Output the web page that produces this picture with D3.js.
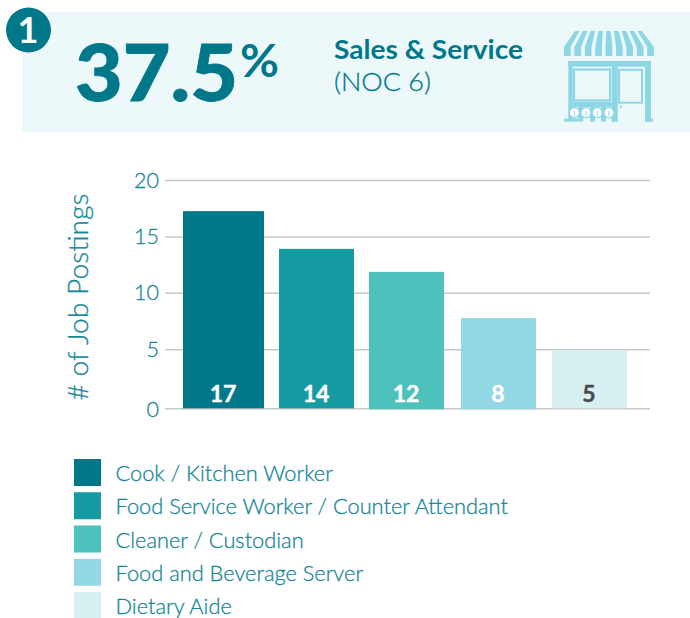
<!DOCTYPE html>
<html><head><meta charset="utf-8">
<script src="https://cdn.jsdelivr.net/npm/d3@7/dist/d3.min.js"></script>
<style>html,body{margin:0;padding:0;background:#fff}svg{display:block}text{font-family:Lato,"Open Sans",sans-serif}</style>
</head><body><svg id="c" width="690" height="618"></svg>
<script>
const categories=["Cook / Kitchen Worker","Food Service Worker / Counter Attendant","Cleaner / Custodian","Food and Beverage Server","Dietary Aide"];
const values=[17.24,13.9,11.86,7.77,4.94];
const valueLabels=["17","14","12","8","5"];
const colors=["#00788a","#179ba3","#4dc1bc","#93d8e4","#d7f0f2"];
const labelColors=["#fff","#fff","#fff","#fff","#4a4a4a"];
const ticks=[0,5,10,15,20];
const TEAL="#00788a", TXT="#16869a";
const svg=d3.select("#c");
const lightText=s=>s.attr("font-weight",300).attr("fill",TXT).attr("stroke",TXT).attr("stroke-width",0.3);
svg.append("rect").attr("x",22).attr("y",12).attr("width",668).attr("height",120).attr("fill","#edf8fb");
svg.append("circle").attr("cx",28.5).attr("cy",30).attr("r",22.5).attr("fill",TEAL);
svg.append("text").attr("x",28).attr("y",43).attr("text-anchor","middle").attr("font-size",36).attr("font-weight",700).attr("fill","#fff").text("1");
svg.append("text").attr("x",75).attr("y",101).attr("font-size",79).attr("font-weight",900).attr("fill",TEAL).attr("stroke",TEAL).attr("stroke-width",0.8)
  .attr("textLength",163).attr("lengthAdjust","spacingAndGlyphs").text("37.5");
svg.append("text").attr("x",240).attr("y",77).attr("font-size",45).attr("font-weight",700).attr("fill",TEAL)
  .attr("textLength",39).attr("lengthAdjust","spacingAndGlyphs").text("%");
svg.append("text").attr("x",334).attr("y",59).attr("font-size",26).attr("font-weight",700).attr("fill",TEAL)
  .attr("textLength",189).attr("lengthAdjust","spacingAndGlyphs").text("Sales & Service");
svg.append("text").attr("x",334).attr("y",91).attr("font-size",26).attr("font-weight",300).attr("fill",TEAL).attr("stroke",TEAL).attr("stroke-width",0.3)
  .attr("textLength",97).attr("lengthAdjust","spacingAndGlyphs").text("(NOC 6)");

// storefront icon
const ICON="#8dd6e5";
const ic=svg.append("g").attr("transform","translate(564,31)").attr("fill",ICON);
d3.range(9).forEach(i=>{
  const bx=i*10.4, tx=11+i*7.8;
  ic.append("path").attr("d",`M${tx} 0h4.5L${bx+6.7} 16v9h-6.7v-9z`);
});
const box=(x,y,w,h)=>ic.append("rect").attr("x",x).attr("y",y).attr("width",w).attr("height",h);
box(4.3,30,82.7,5.7);      // top beam
box(4.3,30,4.4,58);        // left post
box(81,30,6,60.6);         // right post
box(47.7,30,6,60.6);       // middle post
box(0.3,87.6,14,3);        // left foot
box(81,87.6,8,3);          // right foot
box(47.7,87.6,6,3);
box(8.7,71,39,5);          // sill
[14.3,26,37].forEach(x=>box(x,76,5,14.6));
const frame=(x,y,w,h,sw)=>ic.append("rect").attr("x",x).attr("y",y).attr("width",w).attr("height",h).attr("fill","none").attr("stroke",ICON).attr("stroke-width",sw);
frame(10,38.5,36,31,2.2);  // window
frame(55,38.7,23,33,2);    // door
[10.3,22,33.3,45].forEach(cx=>{
  ic.append("circle").attr("cx",cx).attr("cy",81.7).attr("r",5).attr("fill","#fff").attr("stroke",ICON).attr("stroke-width",1.2);
  ic.append("path").attr("d",`M${cx-.5} 85h1v-5h-1z`);
});
ic.append("circle").attr("cx",56.7).attr("cy",75.7).attr("r",1.2);

// chart
const y=d3.scaleLinear().domain([0,5,20]).range([408.3,349.3,180]);
const x=d3.scaleBand().domain(categories).range([188,627]).paddingInner(0.176).paddingOuter(0);
const axis=d3.axisLeft(y).tickValues(ticks).tickSize(-485).tickPadding(6);
const ga=svg.append("g").attr("transform","translate(165,0)").call(axis);
ga.select(".domain").remove();
ga.selectAll(".tick line").attr("stroke","#c8c8c8").attr("stroke-width",1.5);
ga.selectAll(".tick text").attr("font-size",21.5).call(lightText).attr("font-family","Lato")
  .attr("text-anchor","end").attr("x",-6).attr("dy",null).attr("y",d=>d===0?8:7);
svg.append("text").attr("transform","translate(88,297) rotate(-90)").attr("text-anchor","middle").attr("font-size",27).call(lightText)
  .attr("textLength",207).attr("lengthAdjust","spacingAndGlyphs").text("# of Job Postings");

const widen=[6,0,0,0,0], shift=[-5,0,-1,0,0];
svg.selectAll(".bar").data(categories).join("rect").attr("class","bar")
  .attr("x",(d,i)=>x(d)+shift[i])
  .attr("width",(d,i)=>x.bandwidth()+widen[i])
  .attr("y",(d,i)=>y(values[i]))
  .attr("height",(d,i)=>y(0)-y(values[i])+(i>=2&&i<4?1:0))
  .attr("fill",(d,i)=>colors[i]);
svg.selectAll(".vl").data(categories).join("text").attr("class","vl")
  .attr("x",(d,i)=>x(d)+x.bandwidth()/2+shift[i]+widen[i]/2-.5).attr("y",401.5)
  .attr("text-anchor","middle").attr("font-size",23).attr("font-weight",700)
  .attr("stroke",(d,i)=>labelColors[i]).attr("stroke-width",0.4)
  .attr("fill",(d,i)=>labelColors[i]).text((d,i)=>valueLabels[i]);

// legend
const ly=d3.scalePoint().domain(categories).range([459,592]);
const lg=svg.selectAll(".lg").data(categories).join("g").attr("class","lg").attr("transform",d=>`translate(74,${ly(d)})`);
lg.append("rect").attr("width",27).attr("height",27).attr("fill",(d,i)=>colors[i]);
lg.append("text").attr("x",41.5).attr("y",22).attr("font-size",21.8).call(lightText).text(d=>d);
</script></body></html>
